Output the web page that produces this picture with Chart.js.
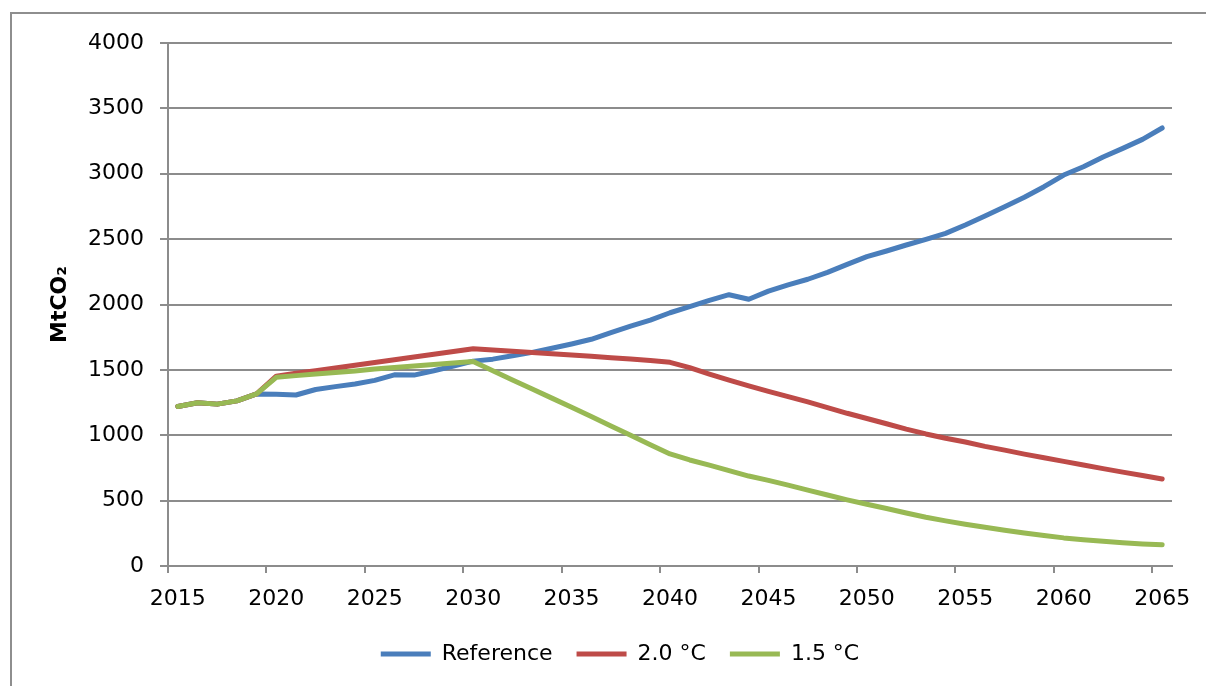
<!DOCTYPE html>
<html>
<head>
<meta charset="utf-8">
<script src="https://cdn.jsdelivr.net/npm/chart.js@4/dist/chart.umd.min.js"></script>
<style>
  body { margin: 0; background: #fff; }
  #wrap { position: relative; width: 1206px; height: 686px; overflow: hidden; }
  #frame { position: absolute; left: 10px; top: 12px; width: 1300px; height: 800px;
           border-top: 2px solid #8e8e8e; border-left: 2px solid #8e8e8e; }
  #chartLinhas { position: absolute; left: 0; top: 0; }
</style>
</head>
<body>
<div id="wrap">
  <div id="frame"></div>
  <canvas id="chartLinhas" width="1206" height="686"></canvas>
</div>
<script>
// anos do eixo x
const anos = [2015, 2016, 2017, 2018, 2019, 2020, 2021, 2022, 2023, 2024,
  2025, 2026, 2027, 2028, 2029, 2030, 2031, 2032, 2033, 2034,
  2035, 2036, 2037, 2038, 2039, 2040, 2041, 2042, 2043, 2044,
  2045, 2046, 2047, 2048, 2049, 2050, 2051, 2052, 2053, 2054,
  2055, 2056, 2057, 2058, 2059, 2060, 2061, 2062, 2063, 2064, 2065];

// MtCO2 por cenario
const referencia = [1220, 1249, 1238, 1263, 1316, 1313, 1308, 1350, 1372, 1392,
  1420, 1462, 1460, 1493, 1530, 1567, 1582, 1608, 1634, 1665,
  1698, 1734, 1785, 1835, 1881, 1937, 1983, 2032, 2075, 2040,
  2102, 2150, 2193, 2246, 2307, 2366, 2409, 2455, 2498, 2544,
  2608, 2677, 2748, 2820, 2901, 2990, 3054, 3128, 3194, 3263, 3350];

const cenario20 = [1220, 1249, 1238, 1263, 1316, 1452, 1474, 1494, 1515, 1536,
  1556, 1578, 1598, 1620, 1641, 1662, 1652, 1642, 1633, 1624,
  1614, 1604, 1593, 1583, 1572, 1558, 1517, 1468, 1422, 1378,
  1336, 1296, 1255, 1212, 1168, 1128, 1088, 1047, 1010, 977,
  948, 915, 886, 856, 828, 800, 772, 745, 718, 692, 665];

const cenario15 = [1220, 1249, 1238, 1263, 1316, 1443, 1456, 1468, 1480, 1492,
  1506, 1518, 1530, 1541, 1552, 1564, 1494, 1423, 1353, 1284,
  1214, 1143, 1070, 1000, 928, 857, 811, 772, 730, 688,
  655, 618, 580, 543, 506, 472, 440, 405, 373, 345,
  320, 297, 273, 252, 233, 215, 201, 189, 178, 169, 162];

const ticksY = [0, 500, 1000, 1500, 2000, 2500, 3000, 3500, 4000];

const cinza = '#8c8c8c';
const fonte = 'DejaVu Sans';

function serie(label, data, cor, ordem) {
  return {
    label: label,
    data: data,
    borderColor: cor,
    backgroundColor: cor,
    borderWidth: 5,
    borderCapStyle: 'round',
    borderJoinStyle: 'round',
    pointRadius: 0,
    tension: 0,
    order: ordem
  };
}

// empurra a legenda um pouco para a direita, como no original
const moveLegenda = {
  id: 'moveLegenda',
  afterLayout(chart) {
    if (chart.legend) {
      chart.legend.left += 34;
      chart.legend.right += 34;
    }
  }
};

const ctx = document.getElementById('chartLinhas');

new Chart(ctx, {
  type: 'line',
  data: {
    labels: anos,
    datasets: [
      serie('Reference', referencia, '#4a7ebb', 3),
      serie('2.0 °C', cenario20, '#be4b48', 2),
      serie('1.5 °C', cenario15, '#98b954', 1)
    ]
  },
  plugins: [moveLegenda],
  options: {
    responsive: false,
    animation: false,
    layout: { padding: { top: 43, right: 34, bottom: 11, left: 0 } },
    plugins: {
      tooltip: { enabled: false },
      legend: {
        position: 'bottom',
        labels: {
          usePointStyle: true,
          pointStyle: 'line',
          pointStyleWidth: 50,
          padding: 24,
          color: '#000',
          font: { family: fonte, size: 22 },
          sort: (a, b) => a.datasetIndex - b.datasetIndex
        }
      }
    },
    scales: {
      x: {
        type: 'category',
        offset: true,
        afterFit: (s) => { s.height = 53; },
        grid: {
          offset: true,
          drawOnChartArea: false,
          tickLength: 7,
          lineWidth: 2,
          color: (c) => (c.index % 5 === 0 ? cinza : 'rgba(0,0,0,0)')
        },
        border: { color: cinza, width: 2 },
        ticks: {
          autoSkip: false,
          maxRotation: 0,
          padding: 13,
          color: '#000',
          font: { family: fonte, size: 22 },
          callback: function (v, i) { return i % 5 === 0 ? this.getLabelForValue(v) : ''; }
        }
      },
      y: {
        min: 0,
        max: 4000,
        afterFit: (s) => { s.width = 168; },
        afterBuildTicks: (s) => { s.ticks = ticksY.map((v) => ({ value: v })); },
        grid: { color: cinza, lineWidth: 2, tickLength: 8 },
        border: { color: cinza, width: 2 },
        ticks: {
          padding: 16,
          color: '#000',
          font: { family: fonte, size: 22 },
          callback: (v) => String(v)
        },
        title: {
          display: true,
          text: 'MtCO₂',
          color: '#000',
          font: { family: fonte, size: 22, weight: 'bold' },
          padding: { top: 47, bottom: 0 }
        }
      }
    }
  }
});
</script>
</body>
</html>
